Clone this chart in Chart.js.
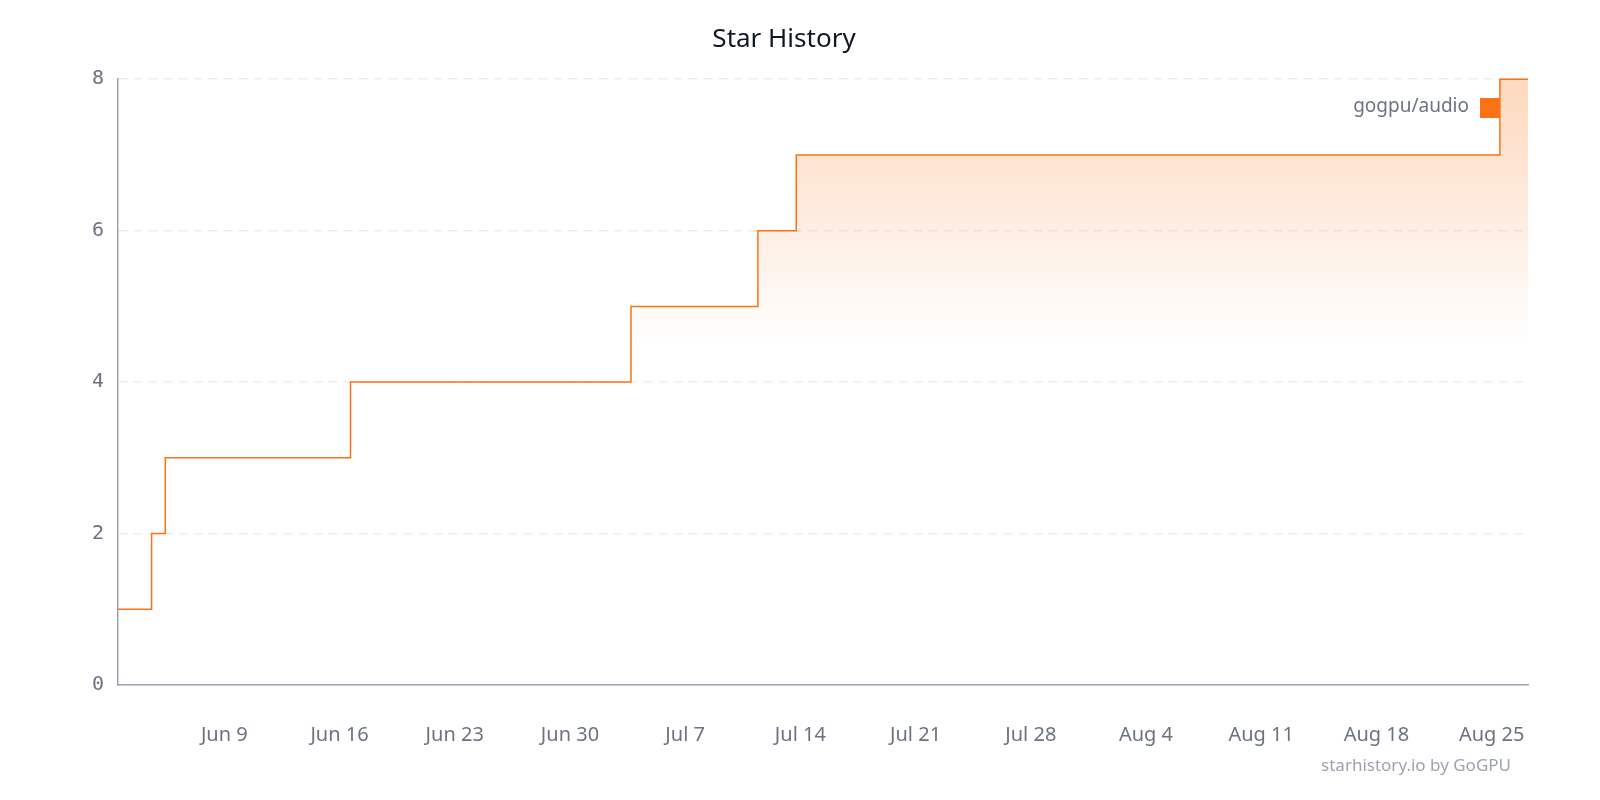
<!DOCTYPE html>
<html>
<head>
<meta charset="utf-8">
<title>Star History</title>
<script src="https://cdn.jsdelivr.net/npm/chart.js@4.4.1/dist/chart.umd.min.js"></script>
<style>
  html, body { margin: 0; padding: 0; background: #fff; overflow: hidden; }
  #wrap { position: relative; width: 1600px; height: 800px; }
  #chart { display: block; }
  #credit {
    position: absolute; right: 89px; top: 753px;
    font: 17px "Noto Sans", sans-serif; color: #9ca3af;
  }
</style>
</head>
<body>
<div id="wrap">
  <canvas id="chart" width="1600" height="800"></canvas>
  <div id="credit">starhistory.io by GoGPU</div>
</div>
<script>
// Star history for the repo, one entry per new star (time of the step, total stars)
const repoName = 'gogpu/audio'
const starTimes = [
  '2025-06-02T13:00', '2025-06-04T14:00', '2025-06-05T10:00', '2025-06-16T16:00',
  '2025-07-03T17:00', '2025-07-11T10:00', '2025-07-13T18:00', '2025-08-25T12:00',
  '2025-08-27T05:00'
]
const starCounts = [1, 2, 3, 4, 5, 6, 7, 8, 8]

const xTickDates = ['2025-06-09', '2025-06-16', '2025-06-23', '2025-06-30', '2025-07-07', '2025-07-14',
  '2025-07-21', '2025-07-28', '2025-08-04', '2025-08-11', '2025-08-18', '2025-08-25']
const xTickLabels = ['Jun 9', 'Jun 16', 'Jun 23', 'Jun 30', 'Jul 7', 'Jul 14',
  'Jul 21', 'Jul 28', 'Aug 4', 'Aug 11', 'Aug 18', 'Aug 25']
const yTicks = [0, 2, 4, 6, 8]

// No date adapter available, so work in days since Jun 2
const base = Date.UTC(2025, 5, 2)
const toDays = (s) => (Date.parse(s + 'Z') - base) / 86400000

const points = starTimes.map((t, i) => ({ x: toDays(t), y: starCounts[i] }))
const tickDays = xTickDates.map(d => toDays(d + 'T00:00'))

const lineColor = '#f97316'

const legendInside = {
  id: 'legendInside',
  afterDraw(chart) {
    const ctx = chart.ctx
    const ds = chart.data.datasets[0]
    ctx.save()
    ctx.fillStyle = lineColor
    ctx.fillRect(1480, 98, 20, 20)
    ctx.font = '19px "Noto Sans", sans-serif'
    ctx.fillStyle = '#6b7280'
    ctx.textAlign = 'right'
    ctx.textBaseline = 'middle'
    ctx.fillText(ds.label, 1469, 107)
    ctx.restore()
  }
}

const ctx = document.getElementById('chart').getContext('2d')
const fillGradient = ctx.createLinearGradient(0, 78, 0, 345)
fillGradient.addColorStop(0, 'rgba(249, 115, 22, 0.28)')
fillGradient.addColorStop(1, 'rgba(249, 115, 22, 0)')

new Chart(ctx, {
  type: 'line',
  data: {
    datasets: [{
      label: repoName,
      data: points,
      stepped: true,
      borderColor: lineColor,
      borderWidth: 1.5,
      pointRadius: 0,
      fill: 'origin',
      backgroundColor: fillGradient,
      clip: 4
    }]
  },
  options: {
    responsive: false,
    devicePixelRatio: 1,
    animation: false,
    layout: { padding: { left: 40, right: 72, top: 0, bottom: 0 } },
    plugins: {
      legend: { display: false },
      tooltip: { enabled: false },
      title: {
        display: true,
        text: 'Star History',
        color: '#111827',
        font: { family: '"Noto Sans", sans-serif', size: 26, weight: 'normal' },
        padding: { top: 24, bottom: 24 }
      }
    },
    scales: {
      x: {
        type: 'linear',
        min: toDays('2025-06-02T13:00'),
        max: toDays('2025-08-27T05:00'),
        afterBuildTicks: (scale) => {
          scale.ticks = tickDays.map(v => ({ value: v }))
        },
        afterFit: (scale) => { scale.height = 115 },
        grid: { display: false, drawTicks: false },
        border: { display: true, color: '#9ca3af', width: 1.5 },
        ticks: {
          padding: 38,
          color: '#6b7280',
          font: { family: '"Noto Sans", sans-serif', size: 20 },
          maxRotation: 0,
          autoSkip: false,
          callback: (value) => {
            const i = tickDays.indexOf(value)
            return i >= 0 ? xTickLabels[i] : ''
          }
        }
      },
      y: {
        min: 0,
        max: 8,
        afterBuildTicks: (scale) => {
          scale.ticks = yTicks.map(v => ({ value: v }))
        },
        afterFit: (scale) => { scale.width = 78 },
        grid: {
          color: 'rgba(0, 0, 0, 0.07)',
          lineWidth: 1.5,
          drawTicks: false
        },
        border: { display: true, color: '#9ca3af', width: 1.5, dash: [9, 6] },
        ticks: {
          padding: 14,
          color: '#6b7280',
          font: { family: '"DejaVu Sans Mono", monospace', size: 20 }
        }
      }
    }
  },
  plugins: [legendInside]
})
</script>
</body>
</html>
